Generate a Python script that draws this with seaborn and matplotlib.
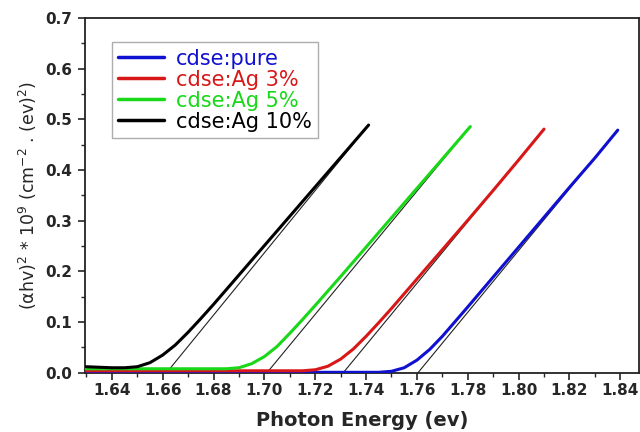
import numpy as np
import pandas as pd
import seaborn as sns
import matplotlib.pyplot as plt
from matplotlib.ticker import MultipleLocator

# Tauc plot curves (photon energy in eV, (ahv)^2 * 1e9)
energy_pure = [1.630, 1.745, 1.750, 1.755, 1.760, 1.765, 1.770, 1.775, 1.780,
               1.790, 1.800, 1.810, 1.820, 1.830, 1.839]
tauc_pure = [0.001, 0.001, 0.003, 0.010, 0.025, 0.046, 0.072, 0.101, 0.130,
             0.189, 0.248, 0.307, 0.366, 0.424, 0.479]

energy_ag3 = [1.630, 1.715, 1.720, 1.725, 1.730, 1.735, 1.740, 1.745, 1.750,
              1.760, 1.770, 1.780, 1.790, 1.800, 1.810]
tauc_ag3 = [0.004, 0.004, 0.006, 0.013, 0.027, 0.047, 0.072, 0.099, 0.127,
            0.185, 0.243, 0.301, 0.360, 0.420, 0.481]

energy_ag5 = [1.630, 1.685, 1.690, 1.695, 1.700, 1.705, 1.710, 1.715, 1.720,
              1.730, 1.740, 1.750, 1.760, 1.770, 1.781]
tauc_ag5 = [0.008, 0.008, 0.010, 0.018, 0.032, 0.052, 0.078, 0.105, 0.133,
            0.190, 0.248, 0.306, 0.364, 0.422, 0.486]

energy_ag10 = [1.630, 1.640, 1.645, 1.650, 1.655, 1.660, 1.665, 1.670, 1.675,
               1.680, 1.690, 1.700, 1.710, 1.720, 1.730, 1.741]
tauc_ag10 = [0.012, 0.010, 0.010, 0.012, 0.020, 0.035, 0.055, 0.080, 0.107,
             0.135, 0.193, 0.251, 0.309, 0.367, 0.425, 0.489]

labels = ['cdse:pure', 'cdse:Ag 3%', 'cdse:Ag 5%', 'cdse:Ag 10%']
colors = ['#1010d0', '#d81818', '#18d818', '#000000']

# linear extrapolation lines: (x-intercept, end point)
fit_x = [[1.7604, 1.839], [1.731, 1.810], [1.701, 1.781], [1.6615, 1.741]]
fit_y = [[0.0, 0.479], [0.0, 0.481], [0.0, 0.486], [0.0, 0.489]]

sns.set_style('ticks')
plt.rcParams['font.family'] = ['DejaVu Sans']
plt.rcParams['mathtext.default'] = 'regular'

fig = plt.figure(figsize=(6.4, 4.32), dpi=100)
ax = fig.add_axes([0.133, 0.137, 0.866, 0.821])

curves = [(energy_pure, tauc_pure), (energy_ag3, tauc_ag3),
          (energy_ag5, tauc_ag5), (energy_ag10, tauc_ag10)]

for (xs, ys), lab, col in zip(curves, labels, colors):
    sns.lineplot(x=xs, y=ys, ax=ax, color=col, lw=2.2, label=lab,
                 sort=False, zorder=3, solid_joinstyle='round')

for xs, ys in zip(fit_x, fit_y):
    sns.lineplot(x=xs, y=ys, ax=ax, color='#222222', lw=0.8, zorder=2,
                 legend=False)

ax.set_xlim(1.6295, 1.8475)
ax.set_ylim(0, 0.7)
ax.xaxis.set_major_locator(MultipleLocator(0.02))
ax.xaxis.set_minor_locator(MultipleLocator(0.01))
ax.yaxis.set_major_locator(MultipleLocator(0.1))
ax.yaxis.set_minor_locator(MultipleLocator(0.05))
ax.xaxis.set_major_formatter(plt.FormatStrFormatter('%.2f'))
ax.yaxis.set_major_formatter(plt.FormatStrFormatter('%.1f'))

ax.tick_params(which='major', direction='out', length=5, width=1.2,
               labelsize=11)
ax.tick_params(axis='x', which='major', pad=2.5)
ax.tick_params(axis='y', which='major', pad=4.5)
ax.tick_params(which='minor', direction='out', length=3, width=1)
for lbl in ax.get_xticklabels() + ax.get_yticklabels():
    lbl.set_fontweight('bold')
for sp in ax.spines.values():
    sp.set_linewidth(1.3)
    sp.set_color('#222222')

ax.set_xlabel('Photon Energy (ev)', fontsize=14, fontweight='bold',
              labelpad=9)
ax.set_ylabel('(αhv)$^2$ * 10$^9$ (cm$^{-2}$ . (ev)$^2$)', fontsize=12.5,
              labelpad=4)

leg = ax.legend(loc='upper left', bbox_to_anchor=(0.048, 0.932),
                fontsize=15, frameon=True, fancybox=False,
                handlelength=2.2, borderpad=0.3, labelspacing=0.05,
                handletextpad=0.6, borderaxespad=0)
leg.get_frame().set_edgecolor('#999999')
leg.get_frame().set_linewidth(1.0)
for txt, col in zip(leg.get_texts(), colors):
    txt.set_color(col)
for line in leg.get_lines():
    line.set_linewidth(2.5)

fig.savefig('out.png', dpi=100)
